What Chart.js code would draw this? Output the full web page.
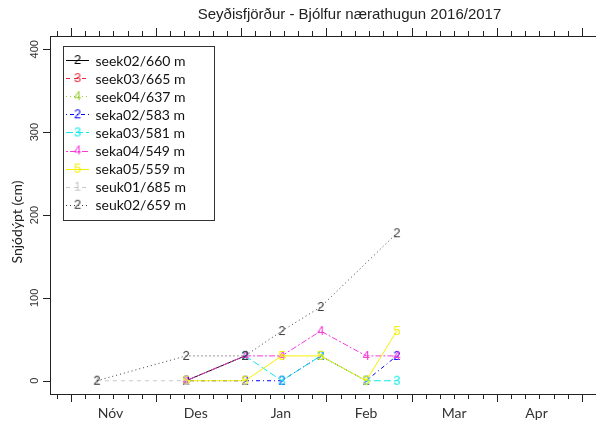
<!DOCTYPE html>
<html>
<head>
<meta charset="utf-8">
<script src="https://cdn.jsdelivr.net/npm/chart.js@4"></script>
<style>
html, body { margin: 0; padding: 0; background: #fff; overflow: hidden; }
#wrap { width: 660px; height: 425px; }
</style>
</head>
<body>
<div id="wrap"><canvas id="snowChart" width="660" height="425"></canvas></div>
<script>
// observation dates, in days counted from 1 Nov 2016
var obsDays = [9.2, 40.6, 61.4, 74.3, 88.0, 104.0, 114.8];

// snow depth (cm) per station, null = no measurement
var seek02 = [null, 0, 30, null, null, null, null];
var seek03 = [null, null, null, null, null, null, null];
var seek04 = [null, null, null, null, null, null, null];
var seka02 = [null, 0, 0, 0, 30, 0, 30];
var seka03 = [null, null, 30, 0, 30, 0, 0];
var seka04 = [null, 0, 30, 30, 60, 30, 30];
var seka05 = [null, 0, 0, 30, 30, 0, 60];
var seuk01 = [0, 0, null, null, null, null, null];
var seuk02 = [0, 30, 30, 60, 89, null, 178];

var stationNames = ['seek02/660 m', 'seek03/665 m', 'seek04/637 m', 'seka02/583 m', 'seka03/581 m',
    'seka04/549 m', 'seka05/559 m', 'seuk01/685 m', 'seuk02/659 m'];
var stationSymbols = ['2', '3', '4', '2', '3', '4', '5', '1', '2'];
var stationValues = [seek02, seek03, seek04, seka02, seka03, seka04, seka05, seuk01, seuk02];

var monthLabels = ['Nóv', 'Des', 'Jan', 'Feb', 'Mar', 'Apr'];
var monthLabelDays = [14, 44, 74, 104, 135, 164];
var yTicks = [0, 100, 200, 300, 400];

// styles (R palette / lty look)
var colors = ['#000000', '#e8283c', '#9acd32', '#0000ff', '#11e8e8', '#f53ad8', '#f5f000', '#c8c8c8', '#3a3a3a'];
var dashes = [[], [4, 4], [1, 3], [1, 3, 4, 3], [7, 3], [2, 2, 6, 2], [], [4, 4], [1, 3]];

function digitCanvas(ch, color) {
    var c = document.createElement('canvas');
    c.width = 12; c.height = 16;
    var g = c.getContext('2d');
    g.font = '13px "Liberation Sans", Arial, sans-serif';
    g.fillStyle = color;
    g.textAlign = 'center';
    g.textBaseline = 'middle';
    g.fillText(ch, 6, 8.5);
    return c;
}

var datasets = stationValues.map(function (vals, i) {
    return {
        label: stationNames[i],
        data: obsDays.map(function (d, j) { return {x: d, y: vals[j]}; }),
        borderColor: colors[i],
        backgroundColor: colors[i],
        borderWidth: 1,
        borderDash: dashes[i],
        pointStyle: digitCanvas(stationSymbols[i], colors[i]),
        pointRadius: 4,
        spanGaps: true,
        tension: 0,
        order: stationValues.length - i
    };
});

var rPlot = {
    id: 'rPlot',
    afterDraw: function (chart) {
        var ctx = chart.ctx, a = chart.chartArea, xs = chart.scales.x, ys = chart.scales.y;
        ctx.save();
        ctx.strokeStyle = '#222';
        ctx.lineWidth = 1;
        ctx.setLineDash([]);
        ctx.strokeRect(Math.round(a.left) + 0.5, Math.round(a.top) + 0.5,
            Math.round(a.right - a.left), Math.round(a.bottom - a.top));
        ctx.beginPath();
        for (var d = Math.ceil(xs.min / 5) * 5; d <= xs.max; d += 5) {
            var px = Math.round(xs.getPixelForValue(d)) + 0.5;
            var len = (d % 30 === 0) ? 8 : 5;
            ctx.moveTo(px, Math.round(a.bottom)); ctx.lineTo(px, Math.round(a.bottom) + len);
            ctx.moveTo(px, Math.round(a.top)); ctx.lineTo(px, Math.round(a.top) - len);
        }
        yTicks.forEach(function (v) {
            var py = Math.round(ys.getPixelForValue(v)) + 0.5;
            ctx.moveTo(Math.round(a.left), py); ctx.lineTo(Math.round(a.left) - 7, py);
        });
        ctx.stroke();

        // y tick labels, rotated like R
        ctx.fillStyle = '#333';
        ctx.font = '11px "Liberation Sans", Arial, sans-serif';
        ctx.textAlign = 'center';
        ctx.textBaseline = 'middle';
        yTicks.forEach(function (v) {
            ctx.save();
            ctx.translate(35, ys.getPixelForValue(v));
            ctx.rotate(-Math.PI / 2);
            ctx.fillText(String(v), 0, 0);
            ctx.restore();
        });

        // y title
        ctx.save();
        ctx.fillStyle = '#222';
        ctx.font = '14px Lato, sans-serif';
        ctx.translate(17, 222);
        ctx.rotate(-Math.PI / 2);
        ctx.fillText('Snjódýpt (cm)', 0, 0);
        ctx.restore();

        // legend
        var lx = 63.5, ly = 46.5, lw = 151, lh = 174;
        ctx.fillStyle = '#fff';
        ctx.fillRect(lx, ly, lw, lh);
        ctx.strokeStyle = '#333';
        ctx.strokeRect(lx, ly, lw, lh);
        stationNames.forEach(function (name, i) {
            var y = 60 + i * 18.1;
            ctx.strokeStyle = colors[i];
            ctx.setLineDash(dashes[i]);
            ctx.beginPath();
            ctx.moveTo(66, Math.round(y) + 0.5);
            ctx.lineTo(89, Math.round(y) + 0.5);
            ctx.stroke();
            ctx.setLineDash([]);
            ctx.drawImage(datasets[i].pointStyle, 77.5 - 6, y - 8);
            ctx.fillStyle = '#111';
            ctx.font = '14px Lato, sans-serif';
            ctx.textAlign = 'left';
            ctx.fillText(name, 95.5, y + 1);
        });
        ctx.restore();
    }
};

new Chart(document.getElementById('snowChart').getContext('2d'), {
    type: 'line',
    data: {datasets: datasets},
    options: {
        responsive: false,
        animation: false,
        layout: {padding: {left: 0, right: 11, top: 0, bottom: 0}},
        plugins: {
            legend: {display: false},
            tooltip: {enabled: false},
            title: {
                display: true,
                fullSize: false,
                text: 'Seyðisfjörður - Bjólfur nærathugun 2016/2017',
                color: '#222',
                font: {family: '"Liberation Sans", Arial, sans-serif', size: 15, weight: 'normal', lineHeight: 1.2},
                padding: {top: 6, bottom: 12}
            }
        },
        scales: {
            x: {
                type: 'linear',
                min: -7.3,
                max: 203.6,
                grid: {display: false, drawTicks: false},
                border: {display: false},
                afterBuildTicks: function (s) {
                    s.ticks = monthLabelDays.map(function (v) { return {value: v}; });
                },
                afterFit: function (s) { s.height = 31; },
                ticks: {
                    autoSkip: false,
                    maxRotation: 0,
                    padding: 11,
                    color: '#333',
                    font: {family: 'Lato, sans-serif', size: 14},
                    callback: function (v, i) { return monthLabels[i]; }
                }
            },
            y: {
                type: 'linear',
                min: -16,
                max: 416,
                grid: {display: false, drawTicks: false},
                border: {display: false},
                ticks: {display: false},
                afterFit: function (s) { s.width = 50; }
            }
        }
    },
    plugins: [rPlot]
});
</script>
</body>
</html>
